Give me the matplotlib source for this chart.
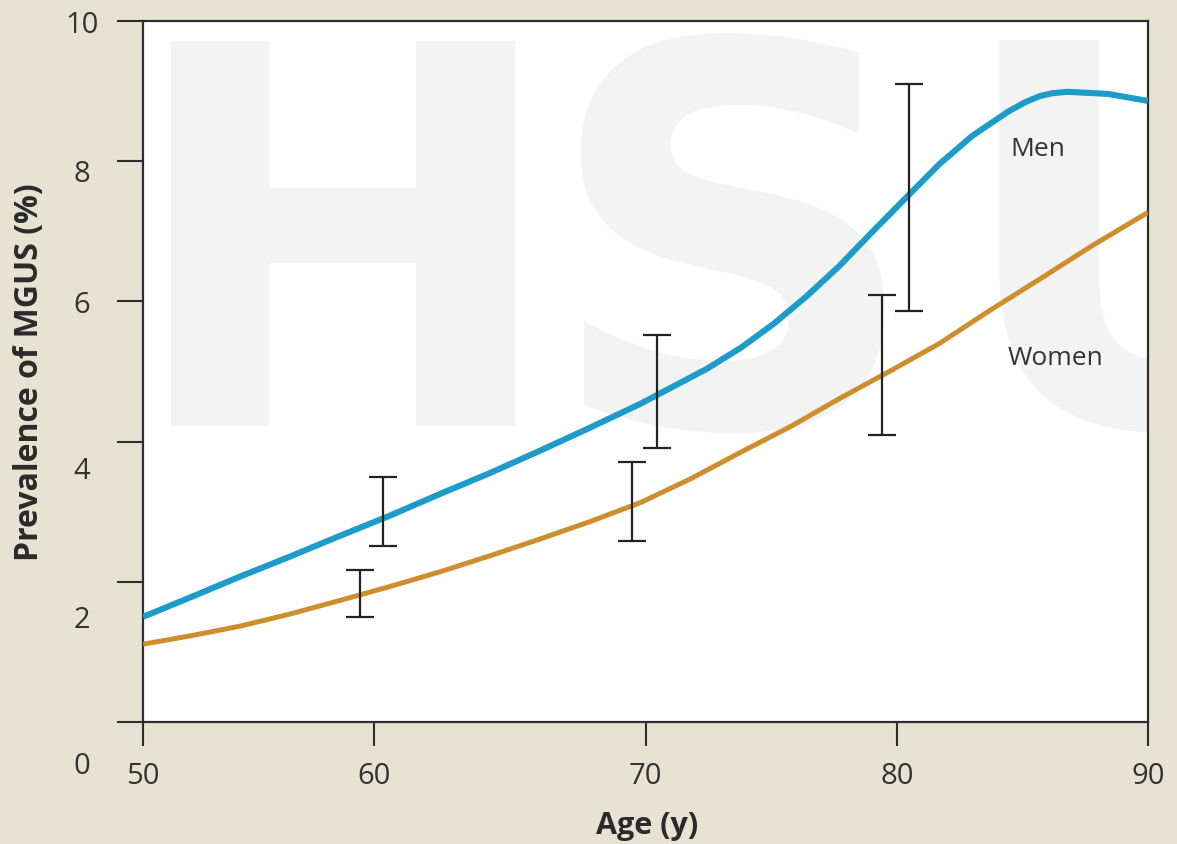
import matplotlib

matplotlib.use("Agg")
import matplotlib.pyplot as plt
from matplotlib.transforms import ScaledTranslation

plt.rcParams["font.family"] = ["Open Sans", "DejaVu Sans"]

# prevalence curves (%), read along the smoothed fits
MEN_AGE = [50.0, 51.9, 53.9, 55.85, 57.8, 59.8, 61.8, 63.8, 65.8, 67.8, 69.8, 72.45,
           73.8, 75.1, 76.4, 77.7, 79.05, 80.4, 81.7, 83.0, 84.4, 85.1, 85.7, 86.2,
           86.8, 88.4, 90.0]
MEN_PREV = [1.50, 1.78, 2.08, 2.36, 2.65, 2.94, 3.25, 3.55, 3.87, 4.20, 4.54, 5.04,
            5.34, 5.68, 6.07, 6.50, 7.00, 7.49, 7.96, 8.36, 8.70, 8.84, 8.93, 8.97,
            8.99, 8.96, 8.86]
WOMEN_AGE = [50.0, 51.9, 53.9, 55.85, 57.8, 59.8, 61.8, 63.8, 65.8, 67.8, 69.8, 71.8,
             73.8, 75.8, 77.7, 79.7, 81.7, 83.7, 85.7, 87.8, 90.0]
WOMEN_PREV = [1.11, 1.23, 1.37, 1.54, 1.73, 1.93, 2.14, 2.37, 2.61, 2.86, 3.13, 3.47,
              3.85, 4.22, 4.61, 5.00, 5.40, 5.87, 6.32, 6.80, 7.27]

# observed 95% CI bars per decade
MEN_BAR_AGE = [59.55, 70.46, 80.49]
MEN_BAR_LOW = [2.51, 3.91, 5.86]
MEN_BAR_HIGH = [3.50, 5.52, 9.10]
WOMEN_BAR_AGE = [58.64, 69.46, 79.41]
WOMEN_BAR_LOW = [1.50, 2.58, 4.09]
WOMEN_BAR_HIGH = [2.17, 3.71, 6.09]

X_TICKS = [50, 59.2, 70, 80, 90]
X_TICK_LABELS = ["50", "60", "70", "80", "90"]
Y_TICKS = [0, 2, 4, 6, 8, 10]
Y_TICK_LABELS = ["0", "2", "4", "6", "8", "10"]
Y_LABEL_DROP = [40, 34, 25, 0, 9, 0]  # pixels each label sits below its tick

BG = "#e6e3d3"
INK = "#2e2e2e"
BLUE = "#1d9cca"
ORANGE = "#cf8e2e"


def draw_bars(ax, ages, low, high):
    centers = [(lo + hi) / 2 for lo, hi in zip(low, high)]
    halves = [(hi - lo) / 2 for lo, hi in zip(low, high)]
    ax.errorbar(ages, centers, yerr=halves, fmt="none", ecolor="#222222",
                elinewidth=1.6, capsize=10, capthick=1.6, zorder=4)


fig = plt.figure(figsize=(11.77, 8.45), dpi=100, facecolor=BG)
ax = fig.add_axes([143 / 1177, 1 - 723 / 845, 1005 / 1177, 701 / 845])
ax.set_facecolor("white")

# faint watermark letters behind the data
for letter, xpos in zip("HSU", [0.198, 0.586, 1.017]):
    ax.text(xpos, 0.424, letter, transform=ax.transAxes, fontsize=380,
            fontweight="bold", family="DejaVu Sans", color="#f3f3f3",
            ha="center", va="baseline", zorder=0, clip_on=True)

ax.plot(MEN_AGE, MEN_PREV, color=BLUE, lw=4.4, solid_capstyle="butt",
        solid_joinstyle="round", zorder=3)
ax.plot(WOMEN_AGE, WOMEN_PREV, color=ORANGE, lw=3.6, solid_capstyle="butt",
        solid_joinstyle="round", zorder=3)
draw_bars(ax, MEN_BAR_AGE, MEN_BAR_LOW, MEN_BAR_HIGH)
draw_bars(ax, WOMEN_BAR_AGE, WOMEN_BAR_LOW, WOMEN_BAR_HIGH)

ax.text(85.6, 8.18, "Men", fontsize=19, color="#333333", ha="center", va="center")
ax.text(86.3, 5.2, "Women", fontsize=19, color="#333333", ha="center", va="center")

ax.set_xlim(50, 90)
ax.set_ylim(0, 10)
for side in ("left", "right", "top", "bottom"):
    ax.spines[side].set_color(INK)
    ax.spines[side].set_linewidth(1.6)

ax.set_xticks(X_TICKS)
ax.set_xticklabels(X_TICK_LABELS)
ax.set_yticks(Y_TICKS)
ax.set_yticklabels(Y_TICK_LABELS)
ax.tick_params(axis="x", direction="out", length=17, width=1.5, color=INK,
               labelsize=21, labelcolor="#333333", pad=11)
ax.tick_params(axis="y", direction="out", length=19, width=1.5, color=INK,
               labelsize=21, labelcolor="#333333", pad=25)
for label, drop in zip(ax.get_yticklabels(), Y_LABEL_DROP):
    label.set_horizontalalignment("center")
    label.set_transform(label.get_transform()
                        + ScaledTranslation(0, -drop / 100, fig.dpi_scale_trans))

ax.set_xlabel("Age (y)", fontsize=22, fontweight="bold", color="#2a2a2a")
ax.set_ylabel("Prevalence of MGUS (%)", fontsize=23, fontweight="bold", color="#2a2a2a")
ax.yaxis.set_label_coords(-0.097, 0.5)
ax.xaxis.set_label_coords(0.502, -0.125)

fig.savefig("out.png", dpi=100, facecolor=BG)
